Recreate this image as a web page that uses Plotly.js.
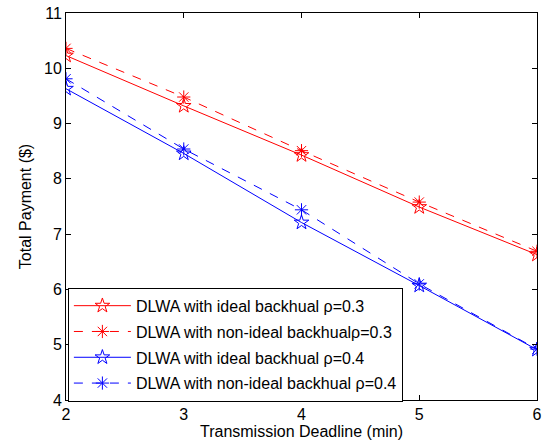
<!DOCTYPE html>
<html>
<head>
<meta charset="utf-8">
<script src="https://cdn.plot.ly/plotly-3.0.1.min.js"></script>
<style>html,body{margin:0;padding:0;background:#fff;}#chart{width:545px;height:447px;}</style>
</head>
<body>
<div id="chart"></div>
<script>
const deadlines = [2, 3, 4, 5, 6];
const idealRho03 = [10.23, 9.32, 8.43, 7.49, 6.63];
const nonIdealRho03 = [10.36, 9.48, 8.51, 7.58, 6.69];
const idealRho04 = [9.63, 8.46, 7.21, 6.07, 4.91];
const nonIdealRho04 = [9.81, 8.54, 7.44, 6.10, 4.92];
const seriesNames = [
  "DLWA with ideal backhual \u03c1=0.3",
  "DLWA with non-ideal backhual\u03c1=0.3",
  "DLWA with ideal backhual \u03c1=0.4",
  "DLWA with non-ideal backhual \u03c1=0.4"
];
const xTicks = [2, 3, 4, 5, 6];
const yTicks = [4, 5, 6, 7, 8, 9, 10, 11];

function tr(y, name, color, dash, symbol, grp) {
  return {
    x: deadlines, y: y, name: name, type: 'scatter', mode: 'lines+markers',
    legendgroup: grp,
    line: {color: color, width: 1, dash: dash},
    marker: {symbol: symbol, size: 11, color: color, line: {color: color, width: 1}}
  };
}
const data = [
  tr(idealRho03, seriesNames[0], '#ff0000', 'solid', 'star-open', 'a'),
  tr(nonIdealRho03, seriesNames[1], '#ff0000', 'dash', 'asterisk-open', 'b'),
  tr(idealRho04, seriesNames[2], '#0000ff', 'solid', 'star-open', 'c'),
  tr(nonIdealRho04, seriesNames[3], '#0000ff', 'dash', 'asterisk-open', 'd')
];
const layout = {
  width: 545, height: 447,
  margin: {l: 66, r: 8, t: 13, b: 47},
  paper_bgcolor: '#fff', plot_bgcolor: '#fff',
  font: {family: 'Liberation Sans, Arial, sans-serif', color: '#000'},
  showlegend: true,
  legend: {
    x: 0.004, y: 0.29, xanchor: 'left', yanchor: 'top',
    bgcolor: '#fff', bordercolor: '#000', borderwidth: 1,
    font: {size: 16, color: '#000'}, itemwidth: 57, tracegroupgap: 2
  },
  xaxis: {
    range: [2, 6], tickvals: xTicks, ticktext: xTicks.map(String),
    ticks: 'inside', ticklen: 5, tickcolor: '#000', showline: true, linecolor: '#000', linewidth: 1,
    mirror: 'ticks', showgrid: false, zeroline: false,
    tickfont: {size: 16},
    title: {text: 'Transmission Deadline (min)', font: {size: 16}, standoff: 3}
  },
  yaxis: {
    range: [4, 11], tickvals: yTicks, ticktext: yTicks.map(String),
    ticks: 'inside', ticklen: 5, tickcolor: '#000', showline: true, linecolor: '#000', linewidth: 1,
    mirror: 'ticks', showgrid: false, zeroline: false,
    tickfont: {size: 16},
    title: {text: 'Total Payment ($)', font: {size: 16}, standoff: 8}
  }
};
Plotly.newPlot('chart', data, layout, {displayModeBar: false, staticPlot: true});
</script>
</body>
</html>
